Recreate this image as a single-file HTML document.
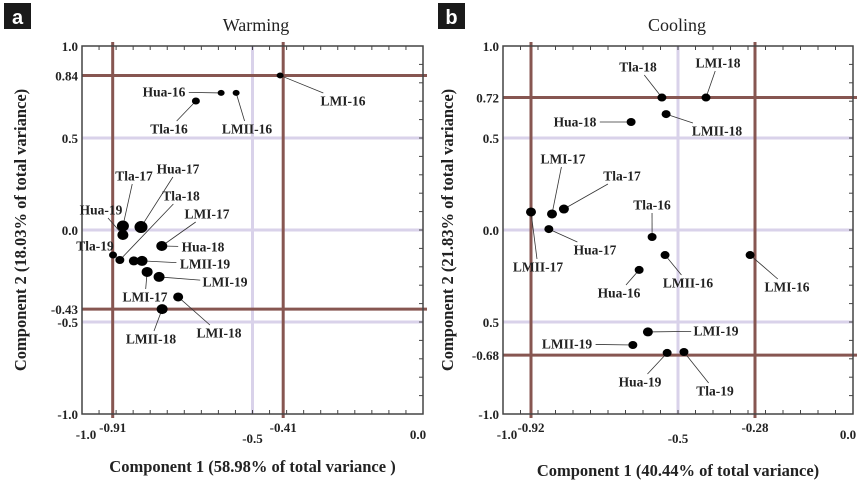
<!DOCTYPE html>
<html><head><meta charset="utf-8">
<style>
html,body{margin:0;padding:0;background:#fff;}
svg{display:block;font-family:"Liberation Serif",serif;}
.lbl{font-weight:bold;font-size:13.5px;fill:#222;}
.tick{font-weight:bold;font-size:13px;fill:#222;}
.axt{font-weight:bold;font-size:16.5px;fill:#222;}
</style></head>
<body>
<svg id="chart" width="861" height="491" viewBox="0 0 861 491" xmlns="http://www.w3.org/2000/svg">
<rect x="4" y="3" width="27" height="26" fill="#1a1a1a"/>
<text x="17.5" y="24" text-anchor="middle" fill="#fff" font-family="Liberation Sans,sans-serif" font-weight="bold" font-size="20">a</text>
<rect x="438" y="3" width="27" height="26" fill="#1a1a1a"/>
<text x="451.5" y="24" text-anchor="middle" fill="#fff" font-family="Liberation Sans,sans-serif" font-weight="bold" font-size="20">b</text>
<text x="256" y="31" text-anchor="middle" font-size="18" fill="#222">Warming</text>
<text x="677" y="31" text-anchor="middle" font-size="18" fill="#222">Cooling</text>
<g id="pa"></g><g id="pb"></g>
</svg>
<script>
// Panel a (Warming) data
const aNames = ["LMI-16","Hua-16","LMII-16","Tla-16","Tla-17","Hua-17","Hua-19","Tla-19","Tla-18","Hua-18","pt-extra","LMII-19","LMI-17","LMI-19","LMI-18","LMII-18"];
const aX = [-0.419,-0.592,-0.548,-0.666,-0.880,-0.827,-0.880,-0.909,-0.889,-0.766,-0.848,-0.824,-0.809,-0.774,-0.718,-0.765];
const aY = [0.84,0.745,0.745,0.701,0.022,0.016,-0.027,-0.136,-0.163,-0.087,-0.168,-0.168,-0.228,-0.255,-0.364,-0.43];
const aR = [3,3,3,3.5,5.5,6,5,3.5,4,5,4.5,5,5,5,4.5,5];
const aLabelText = ["LMI-16","Hua-16","LMII-16","Tla-16","Tla-17","Hua-17","Hua-19","Tla-19","Tla-18","LMI-17","Hua-18","LMII-19","LMI-19","LMI-17","LMI-18","LMII-18"];
const aLabelTarget = [0,1,2,3,4,5,6,7,8,9,9,11,13,12,14,15];
const aLabelPos = [[343,101],[164,92],[247,129],[169,129],[134,176],[178,169],[101,210],[95,246],[181,196],[207,214],[203,247],[205,264],[225,282],[145,297],[219,333],[151,339]];
const aCutX = [-0.91,-0.41];
const aCutY = [0.84,-0.43];
const aXTicks = ["-1.0","-0.91","-0.5","-0.41","0.0"];
const aXTickVals = [-1.0,-0.91,-0.5,-0.41,0.0];
const aYTicks = ["1.0","0.84","0.5","0.0","-0.43","-0.5","-1.0"];
const aYTickVals = [1.0,0.84,0.5,0.0,-0.43,-0.5,-1.0];

// Panel b (Cooling) data
const bNames = ["Tla-18","LMI-18","LMII-18","Hua-18","LMII-17","LMI-17","Tla-17","Hua-17","Tla-16","LMII-16","LMI-16","Hua-16","LMI-19","LMII-19","Hua-19","Tla-19"];
const bX = [-0.546,-0.42,-0.534,-0.634,-0.92,-0.86,-0.826,-0.869,-0.574,-0.537,-0.294,-0.611,-0.586,-0.629,-0.531,-0.483];
const bY = [0.72,0.72,0.63,0.587,0.098,0.087,0.114,0.005,-0.038,-0.136,-0.136,-0.217,-0.554,-0.625,-0.668,-0.663];
const bR = [4,4,4,4,4.5,4.5,4.5,4,4,4,4,4,4.5,4,4,4];
const bLabelText = bNames;
const bLabelTarget = [0,1,2,3,4,5,6,7,8,9,10,11,12,13,14,15];
const bLabelPos = [[638,67],[718,63],[717,131],[575,122],[538,267],[563,159],[622,176],[595,250],[652,205],[688,283],[787,287],[619,293],[716,331],[567,344],[640,382],[715,391]];
const bCutX = [-0.92,-0.28];
const bCutY = [0.72,-0.68];
const bXTicks = ["-1.0","-0.92","-0.5","-0.28","0.0"];
const bXTickVals = [-1.0,-0.92,-0.5,-0.28,0.0];
const bYTicks = ["1.0","0.72","0.5","0.0","0.5","-0.68","-1.0"];
const bYTickVals = [1.0,0.72,0.5,0.0,-0.5,-0.68,-1.0];

const NS="http://www.w3.org/2000/svg";
function mk(parent,tag,attrs,text){const e=document.createElementNS(NS,tag);for(const k in attrs)e.setAttribute(k,attrs[k]);if(text!==undefined)e.textContent=text;parent.appendChild(e);return e;}

function panel(g,P){
  const L=P.left,R=P.right,T=46,B=414;
  const sx=v=>L+(v+1)*(R-L);
  const sy=v=>230-v*184;
  [0.5,0,-0.5].forEach(v=>{const l=mk(g,'line',{x1:L,x2:R,y1:sy(v),y2:sy(v),stroke:'#d9d2ea','stroke-width':3});
    
    });
  const lv=mk(g,'line',{x1:sx(-0.5),x2:sx(-0.5),y1:T,y2:B,stroke:'#d9d2ea','stroke-width':3});
  
  
  P.cutX.forEach(v=>{const l=mk(g,'line',{x1:sx(v),x2:sx(v),y1:T-4,y2:B+4,stroke:'#875651','stroke-width':3});
    
    });
  P.cutY.forEach(v=>{const l=mk(g,'line',{x1:L,x2:R+4,y1:sy(v),y2:sy(v),stroke:'#875651','stroke-width':3});
    
    });
  const fr=mk(g,'rect',{x:L,y:T,width:R-L,height:B-T,fill:'none',stroke:'#444','stroke-width':1.5});
  
  
  for(let i=1;i<20;i++){const x=L+i*(R-L)/20;
    mk(g,'line',{x1:x,x2:x,y1:T,y2:T+4,stroke:'#444','stroke-width':1});
    mk(g,'line',{x1:x,x2:x,y1:B,y2:B-4,stroke:'#444','stroke-width':1});}
  for(let i=1;i<20;i++){const y=T+i*(B-T)/20;
    mk(g,'line',{x1:R,x2:R-4,y1:y,y2:y,stroke:'#444','stroke-width':1});}
  P.xt.forEach((t,i)=>{const v=P.xv[i];const major=(v===-1||v===-0.5||v===0);
    const x=sx(v)+(v===-1?4:(v===0?-5:0));
    const e=mk(g,'text',{x:x,y:major?(v===-0.5?443:439):432,'text-anchor':'middle',class:'tick'},t);
    
    });
  P.yt.forEach((t,i)=>{const v=P.yv[i];
    const e=mk(g,'text',{x:L-4,y:sy(v)+5,'text-anchor':'end',class:'tick'},t);
    
    });
  P.lt.forEach((t,i)=>{const k=P.ltg[i];const px=sx(P.x[k]),py=sy(P.y[k]);
    const [cx,cy]=P.lp[i];const hw=t.length*3.8+2,hh=8;
    const dx=px-cx,dy=py-cy;const s=Math.min(hw/Math.abs(dx||1e-6),hh/Math.abs(dy||1e-6));
    if(s<1){const ln=mk(g,'line',{x1:cx+dx*s,y1:cy+dy*s,x2:px,y2:py,stroke:'#333','stroke-width':0.8});
      
      }
    const e=mk(g,'text',{x:cx,y:cy+4.5,'text-anchor':'middle',class:'lbl'},t);
    
    });
  P.names.forEach((n,i)=>{const c=mk(g,'ellipse',{cx:sx(P.x[i]),cy:sy(P.y[i]),rx:P.r[i]+0.5,ry:P.r[i],fill:'#000'});
    
    });
  const xt=mk(g,'text',{x:(L+R)/2,y:P.xTitleY,'text-anchor':'middle',class:'axt'},P.xTitle);
  
  
  const yt=mk(g,'text',{x:0,y:0,'text-anchor':'middle',class:'axt',transform:`translate(${P.yTitleX},230) rotate(-90)`},P.yTitle);
  
  
}
panel(document.getElementById('pa'),{left:82,right:423,names:aNames,x:aX,y:aY,r:aR,lt:aLabelText,ltg:aLabelTarget,lp:aLabelPos,cutX:aCutX,cutY:aCutY,xt:aXTicks,xv:aXTickVals,yt:aYTicks,yv:aYTickVals,xTitle:"Component 1 (58.98% of total variance )",xTitleY:472,yTitle:"Component 2 (18.03% of total variance)",yTitleX:26});
panel(document.getElementById('pb'),{left:503,right:853,names:bNames,x:bX,y:bY,r:bR,lt:bLabelText,ltg:bLabelTarget,lp:bLabelPos,cutX:bCutX,cutY:bCutY,xt:bXTicks,xv:bXTickVals,yt:bYTicks,yv:bYTickVals,xTitle:"Component 1 (40.44% of total variance)",xTitleY:476,yTitle:"Component 2 (21.83% of total variance)",yTitleX:453});
</script>
</body></html>
